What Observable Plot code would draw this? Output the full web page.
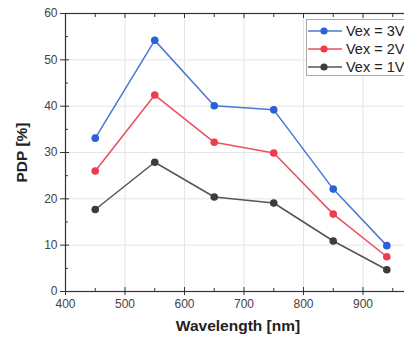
<!DOCTYPE html>
<html><head><meta charset="utf-8">
<script src="https://cdn.jsdelivr.net/npm/d3@7"></script>
<script src="https://cdn.jsdelivr.net/npm/@observablehq/plot@0.6"></script>
<style>
body{margin:0;background:#fff;font-family:"Liberation Sans",Arial,sans-serif;}
#wrap{position:relative;width:404px;height:341px;overflow:hidden;}
#legend{position:absolute;left:306px;top:19px;width:110px;height:57px;border:1px solid #aaa;background:#fff;box-sizing:border-box;}
.row{position:absolute;left:0;height:18px;display:flex;align-items:center;font-size:14.5px;color:#222;}
.row svg{margin-right:2px;}
</style></head><body>
<div id="wrap"><div id="chart"></div><div id="legend"></div></div>
<script>
const wavelengths = [450, 550, 650, 750, 850, 940];
const vex3 = [33.1, 54.2, 40.1, 39.2, 22.1, 9.9];
const vex2 = [26.0, 42.4, 32.2, 29.9, 16.7, 7.5];
const vex1 = [17.7, 27.9, 20.4, 19.1, 10.9, 4.7];
const seriesNames = ["Vex = 3V", "Vex = 2V", "Vex = 1V"];
const seriesColors = ["#2b60d8", "#f03a4e", "#3c3c3c"];
const lineColors = ["#4a78d0", "#e8505f", "#555555"];
const xMajor = [400, 500, 600, 700, 800, 900];
const xMinor = [450, 550, 650, 750, 850, 950];
const yMajor = [0, 10, 20, 30, 40, 50, 60];
const yMinor = [5, 15, 25, 35, 45, 55];

const seriesVals = [vex3, vex2, vex1];
const data = [];
seriesVals.forEach((vals, i) => vals.forEach((v, j) => data.push({series: seriesNames[i], x: wavelengths[j], y: v})));

const chart = Plot.plot({
  width: 404, height: 341,
  marginLeft: 65, marginRight: -18, marginTop: 13, marginBottom: 50,
  style: {fontFamily: '"Liberation Sans", Arial, sans-serif', background: "#fff", overflow: "visible"},
  x: {domain: [400, 1000]},
  y: {domain: [0, 60]},
  color: {domain: seriesNames, range: seriesColors},
  marks: [
    Plot.gridX(xMajor, {stroke: "#e4e4e4", strokeOpacity: 1}),
    Plot.gridY(yMajor.filter(d => d > 0 && d < 60), {stroke: "#e4e4e4", strokeOpacity: 1}),
    Plot.frame({stroke: "#333", strokeWidth: 1.2}),
    Plot.axisY({ticks: yMajor, tickSize: 5, tickPadding: 3, fontSize: 12, color: "#444", label: null, stroke: "#333"}),
    Plot.axisY({ticks: yMajor, tickSize: -4, text: null, label: null, stroke: "#333"}),
    Plot.axisY({ticks: yMinor, tickSize: -3, text: null, label: null, stroke: "#333"}),
    Plot.axisX({ticks: xMajor, tickSize: 4, tickPadding: 4, fontSize: 12, color: "#444", label: null, stroke: "#333"}),
    Plot.axisX({ticks: xMajor, tickSize: -4, text: null, label: null, stroke: "#333"}),
    Plot.axisX({ticks: xMinor, tickSize: -3, text: null, label: null, stroke: "#333"}),
    Plot.axisX({anchor: "top", ticks: xMajor, tickSize: -4, text: null, label: null, stroke: "#333"}),
    Plot.axisX({anchor: "top", ticks: xMinor, tickSize: -3, text: null, label: null, stroke: "#333"}),
    Plot.line(data, {x: "x", y: "y", z: "series", stroke: d => lineColors[seriesNames.indexOf(d.series)], strokeWidth: 1.5}),
    Plot.dot(data, {x: "x", y: "y", fill: "series", r: 3.8, stroke: "none"}),
    Plot.text(["Wavelength [nm]"], {frameAnchor: "bottom", dx: -6, dy: 39, textAnchor: "middle", fontSize: 15.5, fontWeight: "bold", fill: "#222"}),
    Plot.text(["PDP [%]"], {frameAnchor: "left", dx: -43, textAnchor: "middle", rotate: -90, fontSize: 15.5, fontWeight: "bold", fill: "#222"})
  ]
});
document.getElementById("chart").appendChild(chart);

const legend = document.getElementById("legend");
seriesNames.forEach((name, i) => {
  const row = document.createElement("div");
  row.className = "row";
  row.style.top = (2 + i * 18) + "px";
  row.innerHTML = `<svg width="37" height="10"><line x1="1" y1="5" x2="35" y2="5" stroke="${lineColors[i]}" stroke-width="1.5"/><circle cx="17" cy="5" r="3.6" fill="${seriesColors[i]}"/></svg><span>${name}</span>`;
  legend.appendChild(row);
});
</script>
</body></html>
